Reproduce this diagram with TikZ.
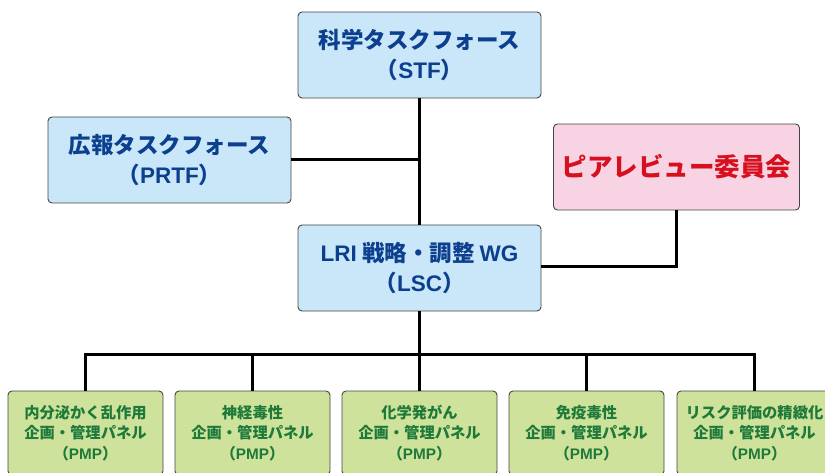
\documentclass[tikz,border=0pt]{standalone}
\usepackage{fontspec}
\setmainfont{Noto Sans CJK JP}
\newfontfamily\lat{Liberation Sans}
\newcommand{\lt}[1]{{\lat #1}}
\definecolor{bluefill}{HTML}{C9E7F9}
\definecolor{bluetext}{HTML}{0C3F8E}
\definecolor{pinkfill}{HTML}{F8D3E3}
\definecolor{redtext}{HTML}{D6101E}
\definecolor{greenfill}{HTML}{CFE29B}
\definecolor{greentext}{HTML}{1E7A3A}
\definecolor{boxline}{HTML}{444444}
\tikzset{
  basebox/.style={draw=boxline, line width=0.9pt, rounded corners=4pt, align=center, inner sep=0pt, font=\bfseries},
  bluebox/.style={basebox, fill=bluefill, text=bluetext, minimum width=243pt, minimum height=86pt,
    font=\fontsize{22.5}{30}\selectfont\bfseries},
  pinkbox/.style={basebox, fill=pinkfill, text=redtext, minimum width=246pt, minimum height=86pt,
    font=\fontsize{25.5}{30}\selectfont\bfseries},
  greenbox/.style={basebox, fill=greenfill, text=greentext, minimum width=155pt, minimum height=84pt,
    font=\fontsize{15.3}{20.5}\selectfont\bfseries},
  conn/.style={draw=black, line width=3pt}
}
\begin{document}
\begin{tikzpicture}[x=1pt,y=-1pt]
\useasboundingbox (0,0) rectangle (825,473);
\node[bluebox] (stf) at (419.5,55) {科学タスクフォース\\（\lt{STF}）};
\node[bluebox] (prtf) at (169.5,160) {広報タスクフォース\\（\lt{PRTF}）};
\node[pinkbox] (peer) at (676.5,167) {ピアレビュー委員会};
\node[bluebox] (lsc) at (419.5,268) {\lt{LRI} 戦略・調整 \lt{WG}\\（\lt{LSC}）};
\node[greenbox] (b1) at (85.5,433) {内分泌かく乱作用\\企画・管理パネル\\（\lt{PMP}）};
\node[greenbox] (b2) at (252.5,433) {神経毒性\\企画・管理パネル\\（\lt{PMP}）};
\node[greenbox] (b3) at (419.5,433) {化学発がん\\企画・管理パネル\\（\lt{PMP}）};
\node[greenbox] (b4) at (586.5,433) {免疫毒性\\企画・管理パネル\\（\lt{PMP}）};
\node[greenbox] (b5) at (754.5,433) {リスク評価の精緻化\\企画・管理パネル\\（\lt{PMP}）};
\coordinate (bus) at (419.5,354);
\draw[conn] (stf.south) -- (lsc.north);
\draw[conn] (prtf.east) -- (prtf.east -| stf.south);
\draw[conn] (peer.south) |- ([yshift=1pt]lsc.east);
\draw[conn] (lsc.south) -- (bus);
\draw[conn] (b1.north) |- (bus) -| (b5.north);
\draw[conn] (b2.north) -- (b2.north |- bus);
\draw[conn] (b3.north) -- (b3.north |- bus);
\draw[conn] (b4.north) -- (b4.north |- bus);
\end{tikzpicture}
\end{document}
